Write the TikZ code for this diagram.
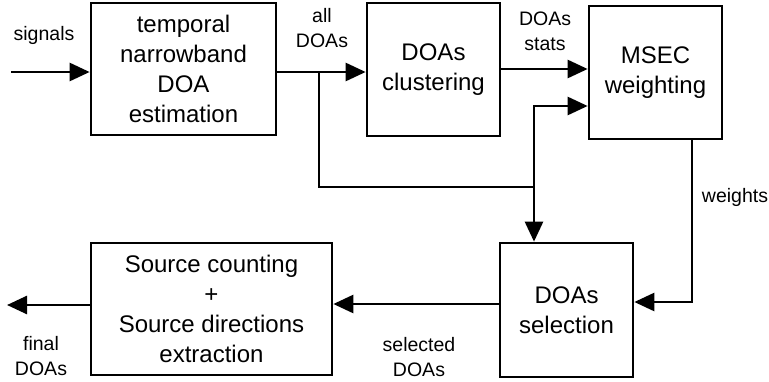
\documentclass[tikz,border=0pt]{standalone}
\usepackage{fontspec}
\setmainfont{Liberation Sans}
\usetikzlibrary{arrows.meta}
\begin{document}
\begin{tikzpicture}[x=1pt,y=-1pt,
  box/.style={draw, line width=2.7pt, align=center, inner sep=0pt, font=\fontsize{24}{30}\selectfont},
  lbl/.style={align=center, inner sep=0pt, font=\fontsize{19.5}{25}\selectfont},
  arr/.style={line width=2.6pt, -{Triangle[length=20pt,width=18pt]}},
  con/.style={line width=2.6pt}]
\useasboundingbox (0,0) rectangle (769,381);
% boxes
\node[box, minimum width=185pt, minimum height=132pt] (b1) at (183.5,69) {temporal\\narrowband\\DOA\\estimation};
\node[box, minimum width=133pt, minimum height=133pt] (b2) at (433.5,69.5) {DOAs\\clustering};
\node[box, minimum width=133pt, minimum height=133pt] (b3) at (655.5,72.5) {MSEC\\weighting};
\node[box, minimum width=133pt, minimum height=134pt] (b4) at (566.5,310) {DOAs\\selection};
\node[box, minimum width=241pt, minimum height=132pt] (b5) at (211.5,309) {Source counting\\+\\Source directions\\extraction};
% helper coordinates
\coordinate (in) at (11,72);
\coordinate (j1) at (319,72);
\coordinate (j2) at (534,187);
\coordinate (m2) at (534,106);
\coordinate (st) at (545,69);
\coordinate (w) at (692,302);
\coordinate (sel) at (420,304);
\coordinate (out) at (7,305);
% connectors
\draw[arr] (in) -- (in -| b1.west);
\draw[arr] (j1 -| b1.east) -- (j1 -| b2.west);
\draw[con] (j1) |- (j2);
\draw[arr] (j2) |- (m2 -| b3.west);
\draw[arr] (j2) -- (j2 |- b4.north);
\draw[arr] (st -| b2.east) -- (st -| b3.west);
\draw[arr] (w |- b3.south) |- (w -| b4.east);
\draw[arr] (sel -| b4.west) -- (sel -| b5.east);
\draw[arr] (out -| b5.west) -- (out);
% labels
\node[lbl] (lsig) at (44,35) {signals};
\node[lbl] (lall) at (322,28) {all\\DOAs};
\node[lbl] (lstat) at (545,31) {DOAs\\stats};
\node[lbl] (lw) at (735,197) {weights};
\node[lbl] (lsel) at (419,357) {selected\\DOAs};
\node[lbl] (lfin) at (41,356) {final\\DOAs};
\end{tikzpicture}
\end{document}
